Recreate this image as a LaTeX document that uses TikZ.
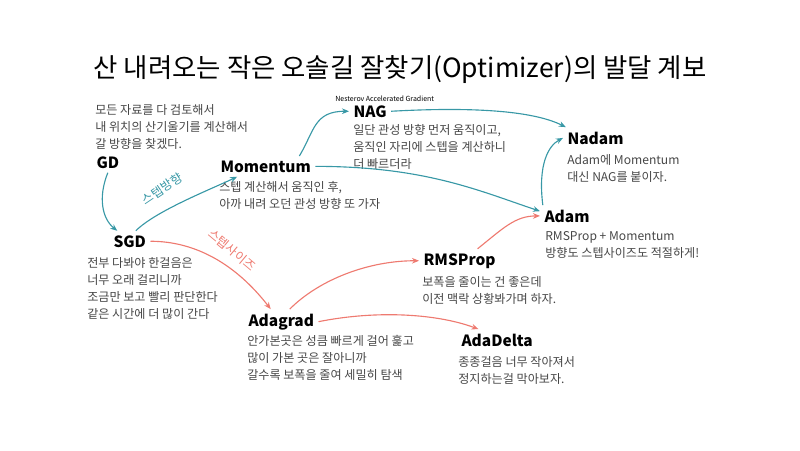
\documentclass[tikz,border=0pt]{standalone}
\usepackage{fontspec}
\setmainfont{Noto Sans CJK KR}
\usetikzlibrary{arrows.meta}
\definecolor{tealline}{RGB}{56,152,166}
\definecolor{salmon}{RGB}{238,122,112}
\definecolor{descgray}{RGB}{70,70,70}
\tikzset{
  algo/.style={font=\fontsize{11}{13}\selectfont\bfseries, inner sep=3pt, anchor=base west},
  note/.style={font=\fontsize{8.6}{12.1}\selectfont, text=descgray, align=left, inner sep=0pt, anchor=north west},
  hoplabel/.style={font=\fontsize{8.8}{10}\selectfont, inner sep=0pt},
  dirhop/.style={->, >={Stealth[length=5pt,width=4pt]}, tealline, line width=0.8pt},
  sizehop/.style={->, >={Stealth[length=5pt,width=4pt]}, salmon, line width=0.8pt}
}
\begin{document}
\begin{tikzpicture}[x=0.025cm, y=-0.025cm]
  \useasboundingbox (0,0) rectangle (800,450);
  % Title
  \node[font=\fontsize{18.8}{21}\selectfont] (title) at (400,70) {산 내려오는 작은 오솔길 잘찾기(Optimizer)의 발달 계보};

  % Algorithms
  \node[algo] (gd) at (92,168) {GD};
  \node[note] (gddesc) at (95,104) {모든 자료를 다 검토해서\\내 위치의 산기울기를 계산해서\\갈 방향을 찾겠다.};
  \node[algo] (sgd) at (109,247) {SGD};
  \node[note] (sgddesc) at (87,257) {전부 다봐야 한걸음은\\너무 오래 걸리니까\\조금만 보고 빨리 판단한다\\같은 시간에 더 많이 간다};
  \node[algo] (mom) at (216,172) {Momentum};
  \node[note] (momdesc) at (219,181) {스텝 계산해서 움직인 후,\\아까 내려 오던 관성 방향 또 가자};
  \node[algo] (nag) at (349,117) {NAG};
  \node[font=\fontsize{5}{6}\selectfont, anchor=base west, inner sep=0pt] (nagfull) at (335,101) {Nesterov Accelerated Gradient};
  \node[note] (nagdesc) at (353,124) {일단 관성 방향 먼저 움직이고,\\움직인 자리에 스텝을 계산하니\\더 빠르더라};
  \node[algo] (nadam) at (563,144) {Nadam};
  \node[note] (nadamdesc) at (567,154) {Adam에 Momentum\\대신 NAG를 붙이자.};
  \node[algo] (adam) at (540,222) {Adam};
  \node[note] (adamdesc) at (545,231) {RMSProp + Momentum\\방향도 스텝사이즈도 적절하게!};
  \node[algo] (adagrad) at (244,326) {Adagrad};
  \node[note] (adagraddesc) at (247,335) {안가본곳은 성큼 빠르게 걸어 훑고\\많이 가본 곳은 잘아니까\\갈수록 보폭을 줄여 세밀히 탐색};
  \node[algo] (rmsprop) at (419,265) {RMSProp};
  \node[note] (rmsdesc) at (422,276) {보폭을 줄이는 건 좋은데\\이전 맥락 상황봐가며 하자.};
  \node[algo] (adadelta) at (457,346) {AdaDelta};
  \node[note] (adadeltadesc) at (458,356) {종종걸음 너무 작아져서\\정지하는걸 막아보자.};

  % Step direction (teal)
  \draw[dirhop] (gd.south) .. controls +(-10,25) and +(-15,-12) .. (sgd.140);
  \draw[dirhop] (sgd.60) .. controls +(20,-20) and +(-25,12) .. (mom.200);
  \node[hoplabel, text=tealline, rotate=34] (dirlabel) at (162,189) {스텝방향};
  \draw[dirhop] ([xshift=24pt]mom.north) .. controls +(15,-25) and +(-35,0) .. (nag.west);
  \draw[dirhop] (nag.east) .. controls +(90,-5) and +(-30,-15) .. (nadam.160);
  \draw[dirhop] (mom.east) .. controls +(110,0) and +(-60,-20) .. (adam.170);
  \draw[dirhop] ([xshift=2pt]adam.north west) .. controls +(-5,-40) and +(-15,8) .. (nadam.west);

  % Step size (salmon)
  \draw[sizehop] (sgd.east) .. controls +(45,0) and +(-35,-45) .. (adagrad.130);
  \node[hoplabel, text=salmon, rotate=-40] (sizelabel) at (232,250) {스텝사이즈};
  \draw[sizehop] ([xshift=6pt]adagrad.north) .. controls +(30,-30) and +(-50,0) .. (rmsprop.west);
  \draw[sizehop] (adagrad.east) .. controls +(60,-12) and +(-40,-15) .. (adadelta.150);
  \draw[sizehop] ([xshift=-16pt]rmsprop.north east) .. controls +(25,-20) and +(-25,0) .. (adam.west);
\end{tikzpicture}
\end{document}
